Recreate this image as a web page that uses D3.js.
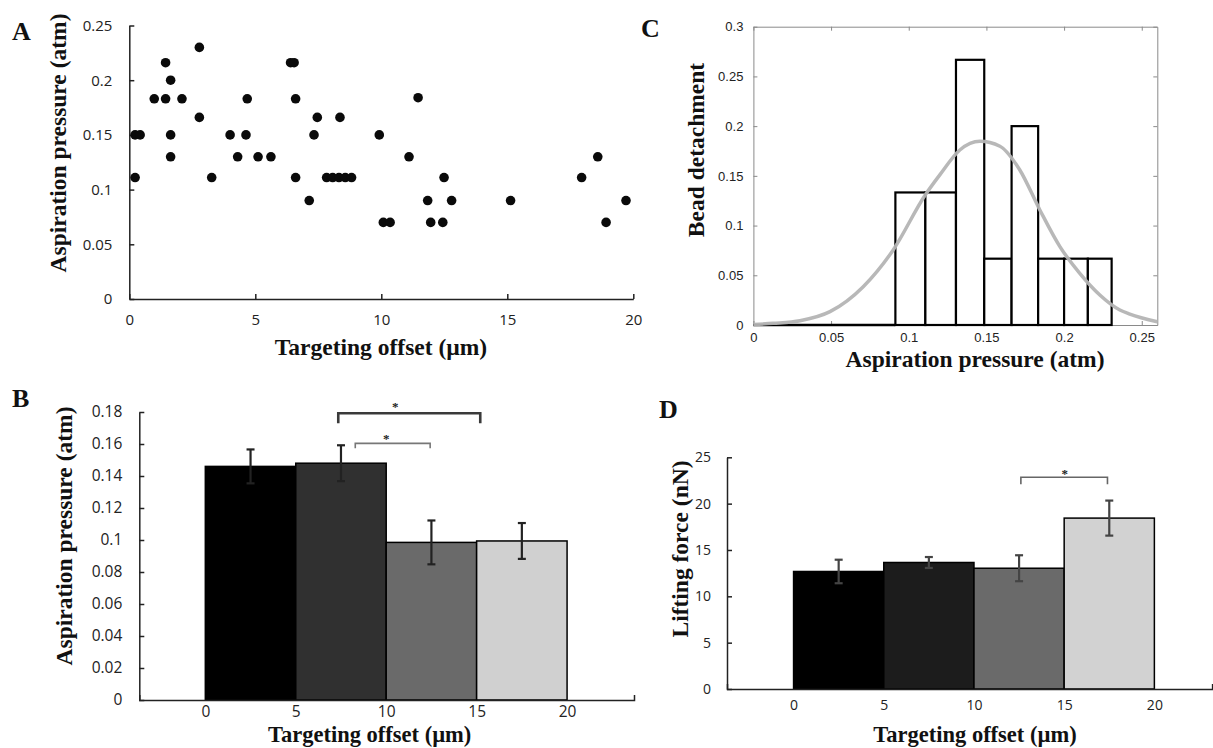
<!DOCTYPE html>
<html><head><meta charset="utf-8">
<script src="https://cdn.jsdelivr.net/npm/d3@7"></script>
<style>body{margin:0;background:#fff}</style>
</head><body>
<svg id="c" width="1213" height="748"></svg>
<script>
// ---------- DATA ----------
// Panel A: scatter
const aX = [0.23,0.23,0.43,0.99,1.44,1.44,1.64,1.64,1.64,2.09,2.78,2.78,3.27,4.0,4.3,4.63,4.68,5.11,5.62,6.4,6.54,6.6,6.6,7.14,7.33,7.46,7.83,8.07,8.32,8.57,8.82,8.36,9.92,10.08,10.35,11.1,11.46,11.84,11.96,12.44,12.49,12.79,15.13,17.95,18.59,18.92,19.71];
const aY = [0.111,0.15,0.15,0.183,0.216,0.183,0.2,0.15,0.13,0.183,0.23,0.166,0.111,0.15,0.13,0.15,0.183,0.13,0.13,0.216,0.216,0.183,0.111,0.09,0.15,0.166,0.111,0.111,0.111,0.111,0.111,0.166,0.15,0.07,0.07,0.13,0.184,0.09,0.07,0.07,0.111,0.09,0.09,0.111,0.13,0.07,0.09];
const aXTicks = [0,5,10,15,20];
const aXLabels = ["0","5","10","15","20"];
const aYTicks = [0,0.05,0.1,0.15,0.2,0.25];
const aYLabels = ["0","0.05","0.1","0.15","0.2","0.25"];

// Panel B: bars
const bStart = [0,5,10,15];
const bEnd = [5,10,15,20];
const bVals = [0.146,0.148,0.0985,0.0994];
const bErr = [0.0106,0.0112,0.0137,0.0112];
const bColors = ["#000000","#303030","#6a6a6a","#d0d0d0"];
const bXTicks = [0,5,10,15,20];
const bXLabels = ["0","5","10","15","20"];
const bYTicks = [0,0.02,0.04,0.06,0.08,0.1,0.12,0.14,0.16,0.18];
const bYLabels = ["0","0.02","0.04","0.06","0.08","0.1","0.12","0.14","0.16","0.18"];
const bBrX1 = [7.35,8.29], bBrX2 = [15.2,12.43], bBrTop = [0.1792,0.1604], bBrLeg = [0.1729,0.1573], bStarX = [10.5,10.0], bStarY = [0.1844,0.165];

// Panel C: histogram + fitted curve
const cEdges = [0.0914,0.1107,0.1304,0.1486,0.1662,0.1833,0.2,0.2153,0.2306];
const cHeights = [0.1333,0.1333,0.2667,0.0667,0.2,0.0667,0.0667,0.0667];
const cEmptyFrom = 0;
const cCurveX = [0,0.0128,0.030,0.0493,0.0707,0.090,0.1107,0.120,0.1329,0.1458,0.1587,0.1715,0.1844,0.1973,0.2101,0.2230,0.2359,0.2423,0.26];
const cCurveY = [0.0005,0.0017,0.0043,0.0134,0.0385,0.0755,0.131,0.151,0.176,0.1847,0.1798,0.1559,0.1157,0.0788,0.052,0.0302,0.0151,0.011,0.0033];
const cXTicks = [0,0.05,0.1,0.15,0.2,0.25];
const cXLabels = ["0","0.05","0.1","0.15","0.2","0.25"];
const cYTicks = [0,0.05,0.1,0.15,0.2,0.25,0.3];
const cYLabels = ["0","0.05","0.1","0.15","0.2","0.25","0.3"];

// Panel D: bars
const dStart = [0,5,10,15];
const dEnd = [5,10,15,20];
const dVals = [12.68,13.65,13.03,18.44];
const dErr = [1.27,0.59,1.4,1.89];
const dColors = ["#000000","#1c1c1c","#6a6a6a","#d2d2d2"];
const dXTicks = [0,5,10,15,20];
const dXLabels = ["0","5","10","15","20"];
const dYTicks = [0,5,10,15,20,25];
const dYLabels = ["0","5","10","15","20","25"];
const dBrX1 = [12.6], dBrX2 = [17.4], dBrTop = [22.84], dBrLeg = [22.09], dStarX = [15.03], dStarY = [23.45];

// ---------- DRAW ----------
const svg = d3.select("#c");
const SERIF = "'Liberation Serif','Times New Roman',serif";
const SANS = "'Open Sans',sans-serif";
const ARIAL = "'Liberation Sans',Arial,sans-serif";

function styleAxis(g, font, size, color, stroke, sw) {
  g.attr("font-family", null).attr("font-size", null);
  g.selectAll("path,line").attr("stroke", stroke).attr("stroke-width", sw);
  g.selectAll("text").attr("font-family", font).attr("font-size", size).attr("fill", color);
}
function fmt(ticks, labels) { return d => labels[ticks.indexOf(d)]; }
function bold(x, y, txt, size, anchor) {
  return svg.append("text").attr("x", x).attr("y", y).attr("font-family", SERIF)
    .attr("font-weight", "bold").attr("font-size", size).attr("text-anchor", anchor || "start")
    .attr("fill", "#111").text(txt);
}
function ytitle(x, y, txt, size) {
  svg.append("text").attr("transform", `translate(${x},${y}) rotate(-90)`)
    .attr("text-anchor", "middle").attr("font-family", SERIF).attr("font-weight", "bold")
    .attr("font-size", size).attr("fill", "#111").text(txt);
}

// ===== Panel A =====
{
  const x = d3.scaleLinear().domain([0,20]).range([129.3,633.3]);
  const y = d3.scaleLinear().domain([0,0.25]).range([299,25.5]);
  const gy = svg.append("g").attr("transform", `translate(${x(0)},0)`)
    .call(d3.axisLeft(y).tickValues(aYTicks).tickFormat(fmt(aYTicks,aYLabels)).tickSizeInner(-5).tickSizeOuter(0).tickPadding(17));
  styleAxis(gy, SANS, 15, "#222", "#222", 1.5);
  const gx = svg.append("g").attr("transform", `translate(0,${y(0)})`)
    .call(d3.axisBottom(x).tickValues(aXTicks).tickFormat(fmt(aXTicks,aXLabels)).tickSizeInner(-5).tickSizeOuter(0).tickPadding(15));
  styleAxis(gx, SANS, 15, "#222", "#222", 1.5);
  svg.append("g").selectAll("circle").data(aX.map((v,i)=>[v,aY[i]])).join("circle")
    .attr("cx", d=>x(d[0])).attr("cy", d=>y(d[1])).attr("r", 4.8).attr("fill", "#0a0a0a");
  bold(12, 40, "A", 26);
  ytitle(66.4, 143, "Aspiration pressure (atm)", 23.5);
  bold(381, 355, "Targeting offset (µm)", 23.5, "middle");
}

// ===== Bar panels =====
function barPanel(o) {
  const x = d3.scaleLinear().domain(o.xd).range(o.xr);
  const y = d3.scaleLinear().domain(o.yd).range(o.yr);
  const gb = svg.append("g");
  gb.selectAll("rect").data(o.vals).join("rect")
    .attr("x", (d,i)=>x(o.start[i])).attr("width", (d,i)=>x(o.end[i])-x(o.start[i]))
    .attr("y", d=>y(d)).attr("height", d=>y(0)-y(d))
    .attr("fill", (d,i)=>o.colors[i]).attr("stroke", "#000").attr("stroke-width", 1.5);
  const ge = svg.append("g").attr("stroke", o.errColor).attr("stroke-width", 2.2);
  o.vals.forEach((v,i)=>{
    const cx = x((o.start[i]+o.end[i])/2);
    ge.append("line").attr("x1",cx).attr("x2",cx).attr("y1",y(v-o.err[i])).attr("y2",y(v+o.err[i]));
    ge.append("line").attr("x1",cx-4).attr("x2",cx+4).attr("y1",y(v-o.err[i])).attr("y2",y(v-o.err[i]));
    ge.append("line").attr("x1",cx-4).attr("x2",cx+4).attr("y1",y(v+o.err[i])).attr("y2",y(v+o.err[i]));
  });
  const gy = svg.append("g").attr("transform", `translate(${o.xr[0]},0)`)
    .call(d3.axisLeft(y).tickValues(o.yTicks).tickFormat(fmt(o.yTicks,o.yLabels)).tickSizeInner(-5).tickSizeOuter(0).tickPadding(o.yPad));
  styleAxis(gy, SANS, o.fs, "#222", "#222", 1.5);
  const gx = svg.append("g").attr("transform", `translate(0,${y(0)})`)
    .call(d3.axisBottom(x).tickValues(o.xTicks).tickFormat(fmt(o.xTicks,o.xLabels)).tickSizeInner(0).tickSizeOuter(-5).tickPadding(o.xPad));
  styleAxis(gx, SANS, o.fs, "#222", "#222", 1.5);
  o.br.x1.forEach((v,i)=>{
    const x1 = x(v), x2 = x(o.br.x2[i]), yt = y(o.br.top[i]), yl = y(o.br.leg[i]);
    svg.append("path").attr("d", `M${x1},${yl}V${yt}H${x2}V${yl}`)
      .attr("fill","none").attr("stroke", o.br.color[i]).attr("stroke-width", o.br.w[i]);
    svg.append("text").attr("x", x(o.br.sx[i])).attr("y", y(o.br.sy[i])+6.5)
      .attr("text-anchor","middle").attr("font-family",SERIF).attr("font-weight","bold")
      .attr("font-size",13).attr("fill","#222").text("*");
  });
}
barPanel({
  xd:[-3.65,23.7], xr:[139.3,634], yd:[0,0.18], yr:[700,412],
  start:bStart, end:bEnd, vals:bVals, err:bErr, colors:bColors, errColor:"#222",
  yTicks:bYTicks, yLabels:bYLabels, xTicks:bXTicks, xLabels:bXLabels, fs:15.5, yPad:17, xPad:6,
  br:{x1:bBrX1, x2:bBrX2, top:bBrTop, leg:bBrLeg, sx:bStarX, sy:bStarY, color:["#3a3a3a","#777"], w:[2.6,1.6]}
});
bold(12, 407, "B", 26);
ytitle(71.8, 536, "Aspiration pressure (atm)", 23.5);
bold(369.7, 741.5, "Targeting offset (µm)", 22.5, "middle");

barPanel({
  xd:[-3.69,23.2], xr:[727,1212.1], yd:[0,25], yr:[689,457.3],
  start:dStart, end:dEnd, vals:dVals, err:dErr, colors:dColors, errColor:"#444",
  yTicks:dYTicks, yLabels:dYLabels, xTicks:dXTicks, xLabels:dXLabels, fs:14, yPad:16, xPad:11,
  br:{x1:dBrX1, x2:dBrX2, top:dBrTop, leg:dBrLeg, sx:dStarX, sy:dStarY, color:["#666"], w:[1.6]}
});
bold(659, 418, "D", 26);
ytitle(687.5, 549, "Lifting force (nN)", 23.5);
bold(975, 741.5, "Targeting offset (µm)", 22.5, "middle");

// ===== Panel C =====
{
  const x = d3.scaleLinear().domain([0,0.26]).range([753.4,1157.3]);
  const y = d3.scaleLinear().domain([0,0.3]).range([325,26.7]);
  const frameCol = "#8a8a8a";
  const gb = svg.append("g").attr("transform", `translate(0,${y(0)})`)
    .call(d3.axisBottom(x).tickValues(cXTicks).tickFormat(fmt(cXTicks,cXLabels)).tickSizeInner(-4).tickSizeOuter(0).tickPadding(8));
  styleAxis(gb, ARIAL, 13, "#222", frameCol, 1);
  const gt = svg.append("g").attr("transform", `translate(0,${y(0.3)})`)
    .call(d3.axisTop(x).tickValues(cXTicks).tickFormat("").tickSizeInner(-4).tickSizeOuter(0));
  styleAxis(gt, ARIAL, 13, "#222", frameCol, 1);
  const gl = svg.append("g").attr("transform", `translate(${x(0)},0)`)
    .call(d3.axisLeft(y).tickValues(cYTicks).tickFormat(fmt(cYTicks,cYLabels)).tickSizeInner(-4).tickSizeOuter(0).tickPadding(10));
  styleAxis(gl, ARIAL, 13, "#222", frameCol, 1);
  const gr = svg.append("g").attr("transform", `translate(${x(0.26)},0)`)
    .call(d3.axisRight(y).tickValues(cYTicks).tickFormat("").tickSizeInner(-4).tickSizeOuter(0));
  styleAxis(gr, ARIAL, 13, "#222", frameCol, 1);
  svg.append("line").attr("x1", x(cEmptyFrom)).attr("x2", x(cEdges[0]))
    .attr("y1", y(0)).attr("y2", y(0)).attr("stroke", "#000").attr("stroke-width", 2.5);
  svg.append("g").selectAll("rect").data(cHeights).join("rect")
    .attr("x", (d,i)=>x(cEdges[i])).attr("width", (d,i)=>x(cEdges[i+1])-x(cEdges[i]))
    .attr("y", d=>y(d)).attr("height", d=>y(0)-y(d))
    .attr("fill", "#fff").attr("stroke", "#000").attr("stroke-width", 2.2);
  const line = d3.line().x(d=>x(d[0])).y(d=>y(d[1])).curve(d3.curveMonotoneX);
  svg.append("path").attr("d", line(cCurveX.map((v,i)=>[v,cCurveY[i]])))
    .attr("fill","none").attr("stroke","#b4b4b4").attr("stroke-width",3.5).attr("stroke-opacity",0.95);
  bold(641, 37, "C", 26);
  ytitle(704, 150, "Bead detachment", 23.5);
  bold(975, 367, "Aspiration pressure (atm)", 23.5, "middle");
}
</script>
</body></html>
